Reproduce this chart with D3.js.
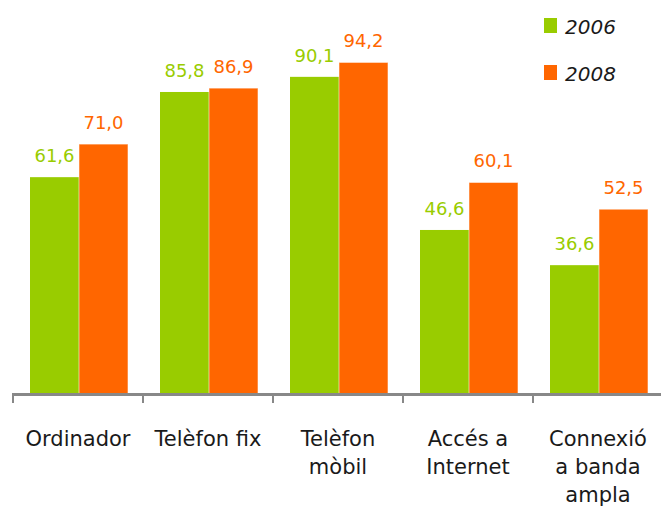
<!DOCTYPE html>
<html>
<head>
<meta charset="utf-8">
<script src="https://cdn.jsdelivr.net/npm/d3@7"></script>
<style>
  body { margin: 0; background: #fff; }
  svg { display: block; font-family: "DejaVu Sans", sans-serif; }
</style>
</head>
<body>
<svg id="chart" width="661" height="506"></svg>
<script>
const categories = ['Ordinador', 'Telèfon fix', 'Telèfon mòbil', 'Accés a Internet', 'Connexió a banda ampla'];
const tickLines = [['Ordinador'], ['Telèfon fix'], ['Telèfon', 'mòbil'], ['Accés a', 'Internet'], ['Connexió', 'a banda', 'ampla']];
const years = ['2006', '2008'];
const values2006 = [61.6, 85.8, 90.1, 46.6, 36.6];
const values2008 = [71.0, 86.9, 94.2, 60.1, 52.5];

const colors = { '2006': '#99cc00', '2008': '#ff6600' };

const svg = d3.select('#chart');
const baseY = 394;

const x = d3.scaleBand()
    .domain(categories)
    .range([13, 663]);

const y = d3.scaleLinear()
    .domain([0, 100])
    .range([baseY, 42]);

const inner = d3.scaleBand()
    .domain(years)
    .range([17, 115]);

const data = categories.map((c, i) => ({
    cat: c,
    vals: [{ year: '2006', v: values2006[i] }, { year: '2008', v: values2008[i] }]
}));

const group = svg.selectAll('g.cat')
    .data(data)
    .enter().append('g')
    .attr('class', 'cat')
    .attr('transform', d => `translate(${x(d.cat)},0)`);

group.selectAll('rect')
    .data(d => d.vals)
    .enter().append('rect')
    .attr('x', d => inner(d.year))
    .attr('width', inner.bandwidth())
    .attr('y', d => y(d.v))
    .attr('height', d => baseY - y(d.v))
    .style('fill', d => colors[d.year])
    .style('stroke', d => d.year === '2008' ? 'rgba(255,255,255,0.55)' : 'none')
    .style('stroke-width', 1);

group.selectAll('text.val')
    .data(d => d.vals)
    .enter().append('text')
    .attr('class', 'val')
    .attr('x', d => inner(d.year) + inner.bandwidth() / 2)
    .attr('y', d => y(d.v) - 15)
    .attr('text-anchor', 'middle')
    .style('font-size', '18px')
    .style('fill', d => colors[d.year])
    .text(d => d3.format('.1f')(d.v).replace('.', ','));

// axis line + ticks
const axisG = svg.append('g').attr('transform', `translate(0,${baseY})`);
axisG.append('line')
    .attr('x1', 12).attr('x2', 661)
    .attr('y1', 0.5).attr('y2', 0.5)
    .style('stroke', '#888').style('stroke-width', 3);
axisG.selectAll('line.tk')
    .data(categories)
    .enter().append('line')
    .attr('class', 'tk')
    .attr('x1', d => x(d)).attr('x2', d => x(d))
    .attr('y1', 0).attr('y2', 9)
    .style('stroke', '#888').style('stroke-width', 2);

// category labels
const lab = svg.selectAll('text.cat-label')
    .data(categories)
    .enter().append('text')
    .attr('class', 'cat-label')
    .attr('text-anchor', 'middle')
    .attr('x', d => x(d) + x.bandwidth() / 2)
    .attr('y', 446)
    .style('font-size', '21px')
    .style('fill', '#1a1a1a');
lab.selectAll('tspan')
    .data((d, i) => tickLines[i])
    .enter().append('tspan')
    .attr('x', function () { return d3.select(this.parentNode).attr('x'); })
    .attr('dy', (d, i) => i === 0 ? 0 : 28)
    .text(d => d);

// legend
const legend = svg.selectAll('g.leg')
    .data(years)
    .enter().append('g')
    .attr('class', 'leg')
    .attr('transform', (d, i) => `translate(544,${18 + i * 47})`);
legend.append('rect')
    .attr('width', 13).attr('height', 15)
    .style('fill', d => colors[d]);
legend.append('text')
    .attr('x', 21).attr('y', 16)
    .style('font-size', '20px')
    .style('font-style', 'italic')
    .style('fill', '#1a1a1a')
    .text(d => d);
</script>
</body>
</html>
